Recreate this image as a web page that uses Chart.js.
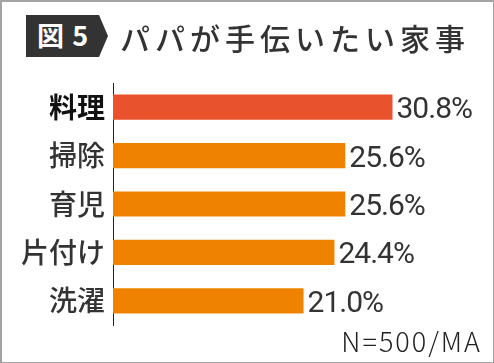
<!DOCTYPE html>
<html lang="ja">
<head>
<meta charset="utf-8">
<title>パパが手伝いたい家事</title>
<script src="https://cdn.jsdelivr.net/npm/chart.js@4"></script>
<style>
  html, body { margin: 0; padding: 0; background: #fff; }
  #wrap { position: relative; width: 494px; height: 363px; overflow: hidden; }
  #frame {
    position: absolute; left: 0; top: 0; width: 491px; height: 360px;
    border: 2px solid #a3a3a3; pointer-events: none;
  }
  #badge {
    position: absolute; left: 26px; top: 15px; width: 82px; height: 42px;
    background: #333;
    clip-path: polygon(0 0, 73px 0, 82px 21px, 73px 42px, 0 42px);
  }
  #badge span {
    position: absolute; left: 11px; top: 4px;
    font: bold 27px/32px "Noto Sans CJK JP", sans-serif; color: #fff;
    letter-spacing: 1px; white-space: nowrap;
  }
  #title {
    position: absolute; left: 120px; top: 20px;
    font: 500 30px/34px "Noto Sans CJK JP", sans-serif; color: #333;
    letter-spacing: 5px; white-space: nowrap;
  }
  #note {
    position: absolute; right: 12px; top: 325px;
    font: 300 27px/32px "Noto Sans CJK JP", sans-serif; color: #222;
    letter-spacing: 2px; white-space: nowrap;
  }
  canvas { position: absolute; left: 0; top: 0; }
</style>
</head>
<body>
<div id="wrap">
  <canvas id="chart" width="494" height="363"></canvas>
  <div id="badge"><span>図 5</span></div>
  <div id="title">パパが手伝いたい家事</div>
  <div id="note">N=500/MA</div>
  <div id="frame"></div>
</div>
<script>
// データ
const labels = ["料理", "掃除", "育児", "片付け", "洗濯"];
const values = [30.8, 25.6, 25.6, 24.4, 21.0];
const barColors = ["#e8522c", "#ef8300", "#ef8300", "#ef8300", "#ef8300"];

// 棒の右に数値ラベル
const valueLabels = {
  id: "valueLabels",
  afterDatasetsDraw(chart) {
    const ctx = chart.ctx;
    const meta = chart.getDatasetMeta(0);
    ctx.save();
    ctx.font = "30px Roboto, sans-serif";
    ctx.letterSpacing = "-1px";
    ctx.fillStyle = "#333";
    ctx.textAlign = "left";
    ctx.textBaseline = "alphabetic";
    meta.data.forEach((bar, i) => {
      ctx.fillText(values[i].toFixed(1) + "%", bar.x + 4, bar.y + 11);
    });
    ctx.restore();
  }
};

new Chart(document.getElementById("chart"), {
  type: "bar",
  data: {
    labels,
    datasets: [{
      data: values,
      backgroundColor: barColors,
      borderWidth: 0,
      categoryPercentage: 1,
      barPercentage: 0.52
    }]
  },
  options: {
    indexAxis: "y",
    responsive: false,
    animation: false,
    layout: { padding: { top: 83, bottom: 38, left: 0, right: 18 } },
    plugins: {
      legend: { display: false },
      tooltip: { enabled: false }
    },
    scales: {
      x: { display: false, min: 0, max: 40 },
      y: {
        afterFit: s => { s.width = 113; },
        grid: { display: false, drawTicks: false },
        border: { display: true, color: "#222", width: 1 },
        ticks: {
          padding: 8,
          color: c => c.index === 0 ? "#111" : "#333",
          font: c => ({
            family: "'Noto Sans CJK JP', sans-serif",
            size: 28,
            weight: c.index === 0 ? "bold" : "500"
          })
        }
      }
    }
  },
  plugins: [valueLabels]
});
</script>
</body>
</html>
